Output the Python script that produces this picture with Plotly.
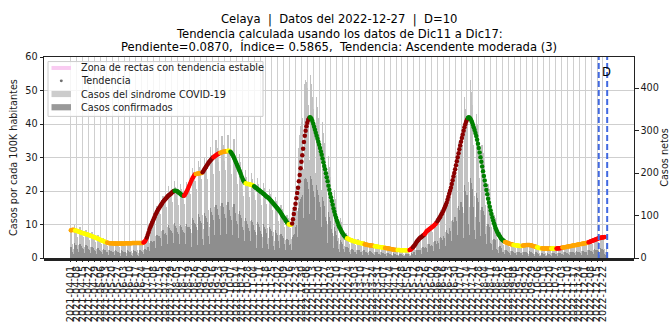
import plotly.graph_objects as go
import pandas as pd

inicio = "2021-04-01"

# Tendencia (casos por 100K) por tramos de clasificación, valores diarios desde 2021-04-01
tramo_clase = ["O", "Y", "O", "R", "DR", "G", "R", "O", "DR", "R", "O", "Y", "G", "Y", "G", "Y", "DR", "G",
               "Y", "O", "Y", "O", "Y", "R", "DR", "R", "DR", "G", "O", "Y", "O", "Y", "O", "Y", "R", "O", "R"]
tramo_valores = [
    [8.3, 8.3, 8.4, 8.4, 8.3],
    [8.2, 8.2, 8.1, 8.0, 7.9, 7.8, 7.7, 7.6, 7.5, 7.5, 7.4, 7.3, 7.2, 7.1, 7.1, 7.0, 6.9, 6.8, 6.7, 6.6,
     6.5, 6.4, 6.3, 6.2, 6.1, 6.0, 5.9, 5.8, 5.7, 5.6, 5.4, 5.3, 5.2, 5.1, 5.0, 4.9, 4.8, 4.7],
    [4.6, 4.5, 4.5, 4.4, 4.4, 4.4, 4.4, 4.3, 4.3, 4.3, 4.3, 4.3, 4.3, 4.3, 4.3, 4.3, 4.3, 4.3, 4.3, 4.3,
     4.3, 4.3, 4.4, 4.4, 4.4, 4.4, 4.4, 4.4, 4.4, 4.4, 4.5, 4.5, 4.5, 4.5, 4.5, 4.5, 4.5, 4.5, 4.5, 4.5,
     4.5, 4.5, 4.5],
    [4.6, 4.8, 5.1, 5.5],
    [6.1, 6.9, 7.6, 8.4, 9.2, 9.8, 10.4, 11.0, 11.6, 12.2, 12.8, 13.3, 13.8, 14.3, 14.7, 15.1, 15.5, 15.9,
     16.3, 16.7, 17.0, 17.3, 17.6, 17.9, 18.2, 18.5, 18.7, 18.9, 19.1, 19.3, 19.6, 19.8, 20.0],
    [20.1, 20.1, 20.0, 19.9, 19.7, 19.5, 19.3, 19.1, 18.9, 18.7, 18.6],
    [18.6, 18.9, 19.3, 19.8, 20.3, 20.9, 21.5, 22.1, 22.7, 23.3, 23.8, 24.2, 24.6, 25.0],
    [25.1, 25.1, 25.2, 25.2, 25.3, 25.3, 25.4, 25.4],
    [25.6, 26.0, 26.4, 26.8, 27.2, 27.6, 28.0, 28.4, 28.7, 29.0, 29.3, 29.6, 29.9],
    [30.1, 30.3, 30.5, 30.7, 30.9, 31.0, 31.2, 31.3],
    [31.4, 31.5, 31.6, 31.7, 31.7, 31.8, 31.8, 31.9, 31.9],
    [32.0, 32.0, 31.9],
    [31.7, 31.4, 31.0, 30.6, 30.1, 29.5, 28.9, 28.3, 27.7, 27.1, 26.5, 25.9, 25.2, 24.5, 23.9, 23.3, 22.8, 22.5],
    [22.3, 22.2, 22.1, 22.1, 22.0, 22.0, 21.9, 21.8, 21.7, 21.6],
    [21.4, 21.2, 21.0, 20.8, 20.6, 20.4, 20.2, 20.0, 19.8, 19.6, 19.4, 19.2, 19.0, 18.7, 18.5, 18.3, 18.1,
     17.9, 17.7, 17.4, 17.1, 16.8, 16.5, 16.2, 15.9, 15.6, 15.3, 15.0, 14.7, 14.4, 14.0, 13.7, 13.3, 12.9,
     12.5, 12.1, 11.8, 11.4, 11.0, 10.6, 10.3],
    [10.1, 10.0, 9.9, 10.0],
    [10.3, 11.6, 13.1, 14.7, 16.2, 17.8, 19.4, 21.0, 22.9, 24.8, 26.8, 28.7, 30.7, 32.6, 34.6, 36.5, 38.0,
     39.3, 40.4, 41.2, 41.7],
    [42.0, 41.9, 41.5, 40.9, 40.1, 39.2, 38.3, 37.4, 36.5, 35.6, 34.7, 33.8, 32.8, 31.8, 30.8, 29.7, 28.6,
     27.5, 26.5, 25.3, 24.1, 22.9, 21.6, 20.4, 19.2, 18.1, 17.0, 15.9, 14.8, 13.8, 12.8, 12.0, 11.2, 10.5,
     9.8, 9.2, 8.7, 8.2, 7.7, 7.3, 6.9, 6.6, 6.3, 6.0],
    [5.9, 5.8, 5.6, 5.5, 5.4, 5.3, 5.2, 5.1, 5.0, 4.9, 4.9, 4.8, 4.7, 4.6, 4.6, 4.5, 4.5, 4.4, 4.3, 4.3, 4.2],
    [4.1, 4.0, 4.0, 3.9, 3.9, 3.8, 3.8, 3.7, 3.7, 3.7, 3.6, 3.6],
    [3.5, 3.5, 3.4, 3.4, 3.3, 3.3, 3.3, 3.2, 3.2, 3.1, 3.1, 3.1],
    [3.0, 3.0, 2.9, 2.9, 2.8, 2.8, 2.7, 2.7, 2.6, 2.6, 2.5, 2.5, 2.5, 2.4, 2.4],
    [2.4, 2.4, 2.4, 2.3, 2.3, 2.3, 2.3, 2.3, 2.3, 2.3, 2.3, 2.3, 2.3, 2.3],
    [2.4, 2.5, 2.7, 2.9],
    [3.2, 3.5, 3.8, 4.2, 4.6, 5.0, 5.3, 5.6, 5.9, 6.1, 6.3, 6.5, 6.7, 6.9],
    [7.2, 7.5, 7.9, 8.1, 8.3, 8.5, 8.7, 8.9, 9.1, 9.3, 9.5, 9.7, 9.9, 10.2, 10.5],
    [11.0, 11.4, 11.8, 12.2, 12.7, 13.1, 13.5, 14.1, 14.7, 15.3, 15.9, 16.5, 17.4, 18.3, 19.2, 20.1, 21.0,
     22.1, 23.2, 24.3, 25.4, 26.5, 27.7, 28.9, 30.1, 31.3, 32.5, 33.6, 34.7, 35.8, 36.9, 38.0, 39.0, 39.9,
     40.7, 41.3],
    [41.8, 42.0, 41.9, 41.6, 41.1, 40.5, 39.8, 39.0, 38.2, 37.3, 36.4, 35.3, 34.1, 32.8, 31.5, 30.1, 28.7,
     27.3, 25.9, 24.5, 23.1, 21.7, 20.3, 19.0, 17.7, 16.5, 15.3, 14.2, 13.1, 12.1, 11.2, 10.4, 9.6, 8.9,
     8.3, 7.7, 7.2, 6.8, 6.4, 6.0, 5.7, 5.4, 5.2, 5.0],
    [4.8, 4.7, 4.6, 4.5, 4.4, 4.3, 4.2, 4.1, 4.1, 4.0],
    [3.9, 3.9, 3.8, 3.8, 3.7, 3.7, 3.7, 3.6, 3.6, 3.6, 3.6],
    [3.7, 3.7, 3.8, 3.8, 3.9, 3.9, 3.9, 3.9, 3.9, 3.8, 3.8, 3.7, 3.6, 3.5, 3.4, 3.4, 3.3],
    [3.2, 3.1, 3.0, 3.0, 2.9, 2.9],
    [2.9, 2.8, 2.8, 2.8, 2.8, 2.8, 2.8, 2.8, 2.8, 2.8, 2.8],
    [2.8, 2.8, 2.8, 2.8, 2.8, 2.8],
    [2.8, 2.8, 2.9, 2.9, 2.9, 3.0, 3.0],
    [3.1, 3.1, 3.2, 3.2, 3.3, 3.3, 3.4, 3.4, 3.5, 3.5, 3.6, 3.6, 3.7, 3.7, 3.8, 3.8, 3.9, 3.9, 4.0, 4.0,
     4.1, 4.1, 4.2, 4.2, 4.3, 4.3, 4.4, 4.4, 4.5, 4.5, 4.6],
    [4.7, 4.8, 4.9, 5.0, 5.1, 5.2, 5.3, 5.4, 5.5, 5.6, 5.7, 5.8, 5.9, 6.0, 6.0, 6.1, 6.1, 6.2, 6.2, 6.3],
]

# Casos netos diarios (semanas jueves-miércoles) desde 2021-04-01
sindrome_semanal = [
    [61, 54, 34, 21, 78, 70, 66], [57, 50, 31, 19, 72, 65, 61], [52, 49, 27, 18, 66, 62, 55],
    [48, 42, 27, 16, 61, 55, 52], [43, 37, 22, 15, 54, 49, 45], [36, 34, 20, 12, 46, 43, 40],
    [33, 28, 18, 11, 41, 37, 35], [30, 29, 16, 12, 40, 36, 33], [31, 27, 17, 11, 39, 37, 34],
    [30, 28, 16, 12, 40, 35, 34], [32, 30, 17, 12, 41, 38, 35], [33, 29, 18, 11, 40, 39, 34],
    [35, 31, 19, 13, 46, 42, 40], [58, 56, 35, 24, 88, 84, 80], [90, 86, 52, 34, 122, 113, 106],
    [114, 104, 64, 42, 146, 137, 127], [132, 120, 73, 48, 170, 158, 146], [143, 131, 77, 53, 182, 168, 156],
    [138, 124, 76, 49, 174, 163, 149], [137, 128, 75, 51, 178, 162, 152], [165, 150, 92, 60, 212, 197, 182],
    [181, 163, 98, 66, 229, 214, 196], [185, 170, 101, 68, 236, 221, 203], [206, 186, 113, 74, 262, 243, 224],
    [218, 197, 119, 80, 277, 258, 237], [226, 204, 123, 82, 287, 267, 246], [228, 206, 124, 83, 290, 270, 248],
    [219, 198, 120, 79, 279, 259, 238], [191, 175, 104, 70, 244, 226, 208], [162, 146, 88, 59, 206, 191, 176],
    [157, 143, 86, 57, 200, 186, 172], [148, 136, 81, 54, 189, 175, 162], [139, 125, 76, 50, 176, 164, 151],
    [128, 115, 70, 46, 162, 151, 139], [113, 104, 62, 41, 144, 134, 123], [98, 88, 54, 36, 125, 116, 107],
    [79, 72, 43, 29, 101, 94, 86], [68, 70, 45, 32, 112, 118, 125], [160, 170, 110, 80, 260, 290, 310],
    [320, 330, 210, 150, 410, 420, 415], [400, 360, 230, 160, 430, 410, 380], [350, 320, 200, 140, 380, 355, 330],
    [290, 265, 160, 110, 320, 295, 270], [215, 190, 120, 80, 240, 215, 190], [150, 130, 78, 52, 160, 140, 120],
    [92, 80, 48, 32, 95, 85, 75], [55, 48, 29, 20, 60, 55, 50], [38, 34, 20, 14, 48, 44, 40],
    [34, 31, 19, 12, 44, 40, 37], [31, 28, 17, 11, 39, 36, 34], [28, 25, 15, 10, 35, 32, 30],
    [26, 23, 14, 9, 32, 30, 28], [23, 21, 13, 8, 29, 27, 25], [21, 19, 11, 8, 27, 25, 23],
    [19, 17, 10, 7, 24, 22, 20], [18, 16, 10, 6, 22, 21, 19], [17, 15, 9, 6, 21, 20, 18],
    [19, 17, 10, 7, 24, 22, 20], [31, 30, 18, 12, 44, 40, 38], [43, 39, 23, 16, 55, 51, 47],
    [58, 53, 32, 21, 74, 69, 64], [68, 62, 37, 25, 87, 81, 74], [88, 80, 48, 32, 112, 104, 96],
    [113, 103, 62, 41, 144, 134, 124], [157, 143, 86, 57, 200, 186, 172], [215, 195, 117, 78, 273, 254, 234],
    [290, 265, 160, 105, 380, 350, 320], [330, 300, 180, 120, 420, 390, 360], [266, 242, 145, 97, 339, 315, 290],
    [208, 189, 113, 76, 265, 246, 227], [138, 125, 75, 50, 175, 163, 150], [79, 72, 43, 29, 101, 94, 86],
    [48, 44, 26, 18, 62, 57, 53], [34, 31, 19, 12, 43, 40, 37], [30, 27, 16, 11, 38, 35, 32],
    [26, 24, 14, 10, 34, 31, 29], [27, 24, 15, 9, 33, 32, 28], [28, 25, 15, 10, 35, 33, 30],
    [24, 22, 13, 9, 31, 29, 26], [21, 19, 11, 8, 27, 25, 23], [20, 18, 11, 7, 25, 23, 22],
    [20, 18, 11, 7, 25, 24, 21], [21, 19, 11, 8, 27, 25, 23], [23, 21, 13, 8, 29, 27, 25],
    [25, 23, 14, 9, 32, 30, 28], [28, 25, 15, 10, 35, 33, 30], [30, 27, 16, 11, 38, 35, 32],
    [33, 30, 18, 12, 42, 39, 36], [37, 34, 20, 14, 48, 44, 41], [42, 38, 23, 15, 53, 49, 46],
    [44, 40, 22, 14, 35, 12],
]
confirmados_semanal = [
    [27, 25, 15, 9, 35, 31, 30], [26, 22, 14, 8, 32, 29, 27], [23, 22, 12, 8, 30, 28, 25],
    [21, 19, 12, 7, 27, 25, 23], [19, 17, 10, 7, 24, 22, 20], [16, 15, 9, 5, 21, 19, 18],
    [15, 13, 8, 5, 18, 17, 16], [13, 13, 7, 5, 18, 16, 15], [14, 12, 8, 5, 18, 17, 15],
    [13, 13, 7, 5, 18, 16, 15], [14, 13, 8, 5, 18, 17, 16], [15, 13, 8, 5, 18, 18, 15],
    [16, 14, 9, 6, 21, 19, 18], [26, 25, 16, 11, 40, 38, 36], [40, 39, 23, 15, 55, 51, 48],
    [51, 47, 29, 19, 66, 62, 57], [59, 54, 33, 22, 77, 71, 66], [64, 59, 35, 24, 82, 76, 70],
    [62, 56, 34, 22, 78, 73, 67], [62, 58, 34, 23, 80, 73, 68], [74, 68, 41, 27, 95, 89, 82],
    [81, 73, 44, 30, 103, 96, 88], [83, 77, 45, 31, 106, 99, 91], [93, 84, 51, 33, 118, 109, 101],
    [98, 89, 54, 36, 125, 116, 107], [102, 92, 55, 37, 129, 120, 111], [103, 93, 56, 37, 131, 122, 112],
    [99, 89, 54, 36, 126, 117, 107], [86, 79, 47, 32, 110, 102, 94], [73, 66, 40, 27, 93, 86, 79],
    [71, 64, 39, 26, 90, 84, 77], [67, 61, 36, 24, 85, 79, 73], [63, 56, 34, 23, 79, 74, 68],
    [58, 52, 32, 21, 73, 68, 63], [51, 47, 28, 18, 65, 60, 55], [44, 40, 24, 16, 56, 52, 48],
    [36, 32, 19, 13, 45, 42, 39], [31, 32, 20, 14, 50, 53, 56], [72, 77, 50, 36, 117, 131, 140],
    [144, 149, 95, 68, 185, 189, 187], [180, 162, 104, 72, 194, 185, 171], [158, 144, 90, 63, 171, 160, 149],
    [131, 119, 72, 50, 144, 133, 122], [97, 86, 54, 36, 108, 97, 86], [68, 59, 35, 23, 72, 63, 54],
    [41, 36, 22, 14, 43, 38, 34], [25, 22, 13, 9, 27, 25, 23], [17, 15, 9, 6, 22, 20, 18],
    [15, 14, 9, 5, 20, 18, 17], [14, 13, 8, 5, 18, 16, 15], [13, 11, 7, 5, 16, 14, 14],
    [12, 10, 6, 4, 14, 14, 13], [10, 9, 6, 4, 13, 12, 11], [9, 9, 5, 4, 12, 11, 10],
    [9, 8, 5, 3, 11, 10, 9], [8, 7, 5, 3, 10, 9, 9], [8, 7, 4, 3, 9, 9, 8],
    [9, 8, 5, 3, 11, 10, 9], [14, 14, 8, 5, 20, 18, 17], [19, 18, 10, 7, 25, 23, 21],
    [26, 24, 14, 9, 33, 31, 29], [31, 28, 17, 11, 39, 36, 33], [40, 36, 22, 14, 50, 47, 43],
    [51, 46, 28, 18, 65, 60, 56], [71, 64, 39, 26, 90, 84, 77], [97, 88, 53, 35, 123, 114, 105],
    [131, 119, 72, 47, 171, 158, 144], [149, 135, 81, 54, 189, 176, 162], [120, 109, 65, 44, 153, 142, 131],
    [94, 85, 51, 34, 119, 111, 102], [62, 56, 34, 23, 79, 73, 68], [36, 32, 19, 13, 45, 42, 39],
    [22, 20, 12, 8, 28, 26, 24], [15, 14, 9, 5, 19, 18, 17], [14, 12, 7, 5, 17, 16, 14],
    [12, 11, 6, 5, 15, 14, 13], [12, 11, 7, 4, 15, 14, 13], [13, 11, 7, 5, 16, 15, 14],
    [11, 10, 6, 4, 14, 13, 12], [9, 9, 5, 4, 12, 11, 10], [9, 8, 5, 3, 11, 10, 10],
    [9, 8, 5, 3, 11, 11, 9], [9, 9, 5, 4, 12, 11, 10], [10, 9, 6, 4, 13, 12, 11],
    [11, 10, 6, 4, 14, 14, 13], [13, 11, 7, 5, 16, 15, 14], [14, 12, 7, 5, 17, 16, 14],
    [15, 14, 8, 5, 19, 18, 16], [17, 15, 9, 6, 22, 20, 18], [19, 17, 10, 7, 24, 22, 21],
    [20, 18, 10, 6, 14, 5],
]

etiquetas_inicio = "2021-04-01"
etiquetas_fin = "2022-12-22"
lineas_D = ["2022-12-17", "2022-12-27"]

titulo_lineas = ["Celaya \u00a0|\u00a0 Datos del 2022-12-27 \u00a0|\u00a0 D=10",
                 "Tendencia calculada usando los datos de Dic11 a Dic17:",
                 "Pendiente=0.0870, \u00a0Índice= 0.5865, \u00a0Tendencia: Ascendente moderada (3)"]
leyenda_textos = ["Zona de rectas con tendencia estable", "Tendencia",
                  "Casos del sindrome COVID-19", "Casos confirmados"]
titulo_y_izq = "Casos por cada 100K habitantes"
titulo_y_der = "Casos netos"

colores_clase = {"DR": "#8b0000", "R": "#ff0000", "O": "#ffa500", "Y": "#ffff00", "G": "#008000"}

# ---- construcción ----
tend = [v for seg in tramo_valores for v in seg]
col = [colores_clase[c] for c, seg in zip(tramo_clase, tramo_valores) for _ in seg]
fechas_t = pd.date_range(inicio, periods=len(tend), freq="D")

sind = [v for w in sindrome_semanal for v in w]
conf = [v for w in confirmados_semanal for v in w]
fechas_b = pd.date_range(inicio, periods=len(sind), freq="D")

tick_fechas = pd.date_range(etiquetas_inicio, etiquetas_fin, freq="7D")
tick_txt = [d.strftime("%Y-%m-%d") for d in tick_fechas]

FN = "DejaVu Sans, sans-serif"
TXT = "#1a1a1a"
DAY = 86400000

# pixel geometry of the plot area (for placing legend / titles)
L, R, T, B = 44, 634, 57, 277
def px(x):
    return (x - L) / (R - L)
def py(y):
    return (B - y) / (B - T)

fig = go.Figure()
fig.add_trace(go.Bar(x=fechas_b, y=sind, width=0.45 * DAY, opacity=0.99,
                     marker=dict(color="#c2c2c2", line=dict(width=0)),
                     name=leyenda_textos[2], yaxis="y", showlegend=False))
fig.add_trace(go.Bar(x=fechas_b, y=conf, width=0.45 * DAY, opacity=0.99,
                     marker=dict(color="#8e8e8e", line=dict(width=0)),
                     name=leyenda_textos[3], yaxis="y", showlegend=False))
fig.add_trace(go.Scatter(x=fechas_t, y=tend, mode="markers", yaxis="y2", showlegend=False,
                         name="Tendencia", marker=dict(color=col, size=4.5, line=dict(width=0))))

shapes = []
for d in lineas_D:
    shapes.append(dict(type="line", xref="x", yref="paper", x0=d, x1=d, y0=0, y1=1,
                       line=dict(color="#4169e1", width=2, dash="6px,3px")))

# legend (matplotlib style)
shapes.append(dict(type="rect", xref="paper", yref="paper", x0=px(48), x1=px(263), y0=py(122), y1=py(62),
                   fillcolor="rgba(255,255,255,0.8)", line=dict(color="#cccccc", width=1)))
rows = [69, 83, 97.5, 112]
shapes.append(dict(type="line", xref="paper", yref="paper", x0=px(51.5), x1=px(71), y0=py(rows[0]),
                   y1=py(rows[0]), line=dict(color="#f9cbf1", width=4)))
shapes.append(dict(type="circle", xref="paper", yref="paper", x0=px(59.8), x1=px(62.8), y0=py(rows[1] + 1.5),
                   y1=py(rows[1] - 1.5), fillcolor="#707070", line=dict(width=0)))
shapes.append(dict(type="rect", xref="paper", yref="paper", x0=px(51.5), x1=px(71), y0=py(rows[2] + 3.4),
                   y1=py(rows[2] - 3.4), fillcolor="#cccccc", line=dict(width=0)))
shapes.append(dict(type="rect", xref="paper", yref="paper", x0=px(51.5), x1=px(71), y0=py(rows[3] + 3.4),
                   y1=py(rows[3] - 3.4), fillcolor="#999999", line=dict(width=0)))

annotations = []
for txt, r in zip(leyenda_textos, rows):
    annotations.append(dict(x=px(79), y=py(r), xref="paper", yref="paper", text=txt, showarrow=False,
                            xanchor="left", yanchor="middle", font=dict(family=FN, size=9.7, color=TXT)))
for txt, yc in zip(titulo_lineas, [16.5, 31.5, 46.0]):
    annotations.append(dict(x=px(339), y=py(yc), xref="paper", yref="paper", text=txt, showarrow=False,
                            xanchor="center", yanchor="middle",
                            font=dict(family=FN, size=11.6, color="black")))
annotations.append(dict(x=px(13.5), y=0.5, xref="paper", yref="paper", text=titulo_y_izq, showarrow=False,
                        textangle=-90, xanchor="center", yanchor="middle",
                        font=dict(family=FN, size=9.7, color=TXT)))
annotations.append(dict(x="2022-12-19", y=55.4, xref="x", yref="y2", text="D", showarrow=False,
                        xanchor="left", yanchor="middle", font=dict(family=FN, size=11.6, color="black")))

fig.update_layout(
    width=672, height=334,
    margin=dict(l=L, r=672 - R, t=T, b=334 - B),
    paper_bgcolor="white", plot_bgcolor="white",
    barmode="overlay", bargap=0, showlegend=False,
    shapes=shapes, annotations=annotations,
    xaxis=dict(type="date", range=["2021-02-28 06:00", "2023-01-27 18:00"],
               tickmode="array", tickvals=tick_fechas, ticktext=tick_txt, tickangle=-90,
               tickfont=dict(family=FN, size=9.7, color=TXT),
               showgrid=True, gridcolor="#cfcfcf", gridwidth=1,
               showline=True, linecolor="#222", linewidth=1, mirror=True,
               ticks="outside", ticklen=3, tickcolor="#222",
               minor=dict(dtick=DAY, ticks="outside", ticklen=2, tickcolor="#222", showgrid=False),
               zeroline=False),
    yaxis=dict(side="right", range=[0, 473], tickvals=[0, 100, 200, 300, 400],
               showgrid=False, zeroline=False, ticks="outside", ticklen=3.5, tickcolor="#222",
               tickfont=dict(family=FN, size=9.7, color=TXT),
               title=dict(text=titulo_y_der, standoff=1, font=dict(family=FN, size=9.7, color=TXT)),
               automargin=False,
               showline=True, linecolor="#222", linewidth=1),
    yaxis2=dict(side="left", overlaying="y", range=[0, 60], dtick=10,
                showgrid=True, gridcolor="#cfcfcf", gridwidth=1, zeroline=False,
                ticks="outside", ticklen=3.5, tickcolor="#222",
                tickfont=dict(family=FN, size=9.7, color=TXT),
                showline=True, linecolor="#222", linewidth=1),
)

fig.write_html("out.html",
               config={"displayModeBar": False},
               post_script="document.body.style.margin='0';document.body.style.padding='0';"
                           "document.documentElement.style.overflow='hidden';")
